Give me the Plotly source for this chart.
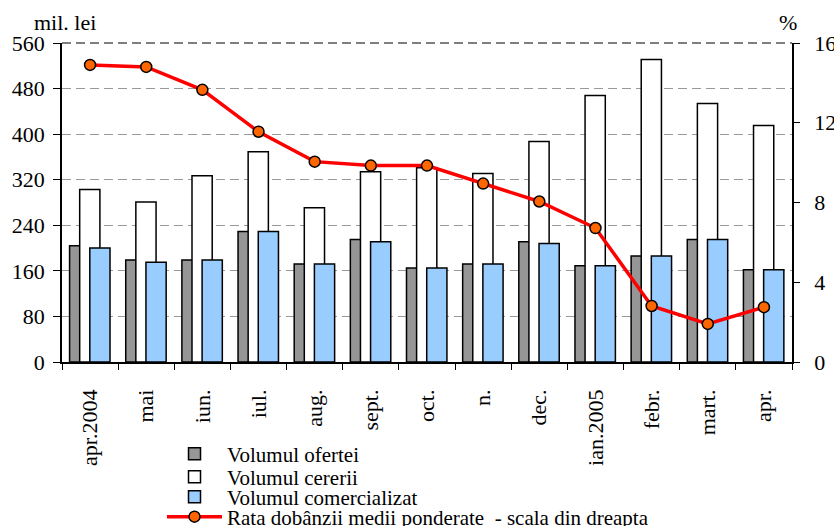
import plotly.graph_objects as go

categories = ["apr.2004", "mai", "iun.", "iul.", "aug.", "sept.", "oct.", "n.",
              "dec.", "ian.2005", "febr.", "mart.", "apr."]
volum_oferta = [204, 179, 179, 229, 172, 215, 165, 172, 211, 169, 186, 215, 162]
volum_cerere = [303, 281, 327, 369, 271, 334, 341, 331, 387, 468, 531, 454, 415]
volum_comercializat = [200, 175, 179, 229, 172, 211, 165, 172, 208, 169, 186, 215, 162]
rata_dobanzii = [14.9, 14.8, 13.65, 11.55, 10.05, 9.85, 9.85, 8.95, 8.05, 6.72, 2.81, 1.91, 2.75]

left_ticks = [0, 80, 160, 240, 320, 400, 480, 560]
right_ticks = [0, 4, 8, 12, 16]

FONT = "Liberation Serif"
BAR_W = 0.36

fig = go.Figure()
fig.add_trace(go.Bar(
    x=categories, y=volum_oferta, name="Volumul ofertei", legend="legend",
    marker=dict(color="#969696", line=dict(color="black", width=1.5)),
    width=BAR_W, offset=-0.365))
fig.add_trace(go.Bar(
    x=categories, y=volum_cerere, name="Volumul cererii", legend="legend2",
    marker=dict(color="white", line=dict(color="black", width=1.5)),
    width=BAR_W, offset=-0.185))
fig.add_trace(go.Bar(
    x=categories, y=volum_comercializat, name="Volumul comercializat", legend="legend3",
    marker=dict(color="#99CCFF", line=dict(color="black", width=1.5)),
    width=BAR_W, offset=-0.005))
fig.add_trace(go.Scatter(
    x=categories, y=rata_dobanzii, yaxis="y2", legend="legend4",
    name="Rata dobânzii medii ponderate  - scala din dreapta",
    mode="lines+markers",
    line=dict(color="#FF0000", width=3.5),
    marker=dict(color="#FF6600", size=11, line=dict(color="black", width=1.5))))


def legend_box(ypos):
    return dict(
        x=0.137, y=ypos, xanchor="left", yanchor="middle",
        orientation="v", font=dict(family=FONT, size=21, color="black"),
        bgcolor="rgba(0,0,0,0)", borderwidth=0, itemwidth=55,
    )


fig.update_layout(
    width=834, height=526,
    margin=dict(l=62, r=42, t=43, b=164, autoexpand=False),
    paper_bgcolor="white", plot_bgcolor="white",
    barmode="overlay",
    font=dict(family=FONT, size=22, color="black"),
    showlegend=True,
    legend=legend_box(-0.2884),
    legend2=legend_box(-0.3605),
    legend3=legend_box(-0.4232),
    legend4=legend_box(-0.4859),
    xaxis=dict(
        type="category", range=[-0.5, 12.5],
        tickangle=-90, tickson="boundaries",
        ticks="outside", ticklen=6, tickcolor="black", tickwidth=1.2,
        showline=True, linecolor="black", linewidth=1.5,
        showgrid=False, ticklabelstandoff=17, automargin=False,
        tickfont=dict(family=FONT, size=22),
    ),
    yaxis=dict(
        range=[0, 560], tickvals=left_ticks,
        ticks="outside", ticklen=7, tickcolor="black", tickwidth=1.2,
        showline=True, linecolor="black", linewidth=1.5,
        showgrid=True, gridcolor="#999999", gridwidth=1.2, griddash="9px,5px",
        zeroline=False, ticklabelstandoff=4, automargin=False,
        tickfont=dict(family=FONT, size=22),
    ),
    yaxis2=dict(
        range=[0, 16], tickvals=right_ticks, overlaying="y", side="right",
        ticks="outside", ticklen=6, tickcolor="black", tickwidth=1.2,
        showline=True, linecolor="black", linewidth=1.5,
        showgrid=False, zeroline=False, ticklabelstandoff=10, automargin=False,
        tickfont=dict(family=FONT, size=22),
    ),
    shapes=[dict(type="line", xref="paper", yref="y domain", x0=0, x1=1, y0=1, y1=1,
                 line=dict(color="#555555", width=1.5, dash="9px,5px"))],
    annotations=[
        dict(text="mil. lei", xref="paper", yref="paper", x=0.004, y=1.0, yshift=21,
             xanchor="center", yanchor="middle", showarrow=False,
             font=dict(family=FONT, size=22)),
        dict(text="%", xref="paper", yref="paper", x=0.9945, y=1.0, yshift=21,
             xanchor="center", yanchor="middle", showarrow=False,
             font=dict(family=FONT, size=22)),
    ],
)

fig.write_html("out.html", config={"displayModeBar": False},
               post_script="document.body.style.margin='0px';")
